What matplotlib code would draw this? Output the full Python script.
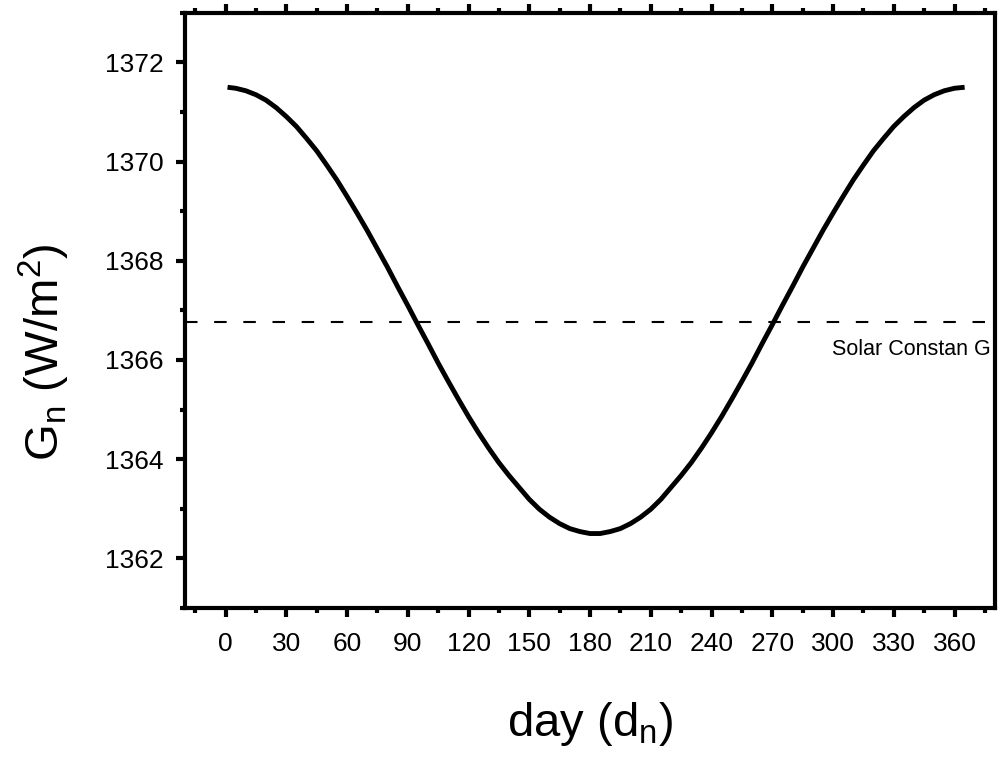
import matplotlib
matplotlib.use("Agg")
import matplotlib.pyplot as plt
from matplotlib.ticker import MultipleLocator

plt.rcParams['font.family'] = ['Liberation Sans', 'DejaVu Sans']
plt.rcParams['mathtext.fontset'] = 'custom'
plt.rcParams['mathtext.rm'] = 'Liberation Sans'

# values (day, Gn in W/m2), every 5 days
days = [1] + list(range(5, 361, 5)) + [365]
gn = [1371.50, 1371.48, 1371.43, 1371.35, 1371.24, 1371.09, 1370.91, 1370.71,
      1370.47, 1370.22, 1369.93, 1369.63, 1369.30, 1368.96, 1368.61, 1368.24,
      1367.87, 1367.48, 1367.10, 1366.71, 1366.33, 1365.94, 1365.57, 1365.21,
      1364.86, 1364.53, 1364.22, 1363.93, 1363.67, 1363.43, 1363.19, 1362.99,
      1362.83, 1362.70, 1362.60, 1362.54, 1362.50, 1362.50, 1362.54, 1362.60,
      1362.70, 1362.83, 1362.99, 1363.19, 1363.43, 1363.67, 1363.93, 1364.22,
      1364.53, 1364.86, 1365.21, 1365.57, 1365.94, 1366.33, 1366.71, 1367.10,
      1367.48, 1367.87, 1368.24, 1368.61, 1368.96, 1369.30, 1369.63, 1369.93,
      1370.22, 1370.47, 1370.71, 1370.91, 1371.09, 1371.24, 1371.35, 1371.43,
      1371.48, 1371.50]
solar_const = 1366.77
const_label = "Solar Constan G"

fig = plt.figure(figsize=(10, 7.58), dpi=100)
ax = fig.add_axes([0.185, 0.198, 0.81, 0.785])

ax.plot(days, gn, color='black', linewidth=3.5, solid_capstyle='butt')
ax.axhline(solar_const, color='black', linewidth=1.5, dashes=(6, 8))
ax.text(378, 1366.22, const_label, ha='right', va='center', fontsize=15.5)

ax.set_xlim(-20, 380)
ax.set_ylim(1361, 1373)
ax.xaxis.set_major_locator(MultipleLocator(30))
ax.xaxis.set_minor_locator(MultipleLocator(15))
ax.yaxis.set_major_locator(MultipleLocator(2))
ax.yaxis.set_minor_locator(MultipleLocator(1))
ax.set_xticks(range(0, 361, 30))

for s in ax.spines.values():
    s.set_linewidth(3)

ax.tick_params(which='both', direction='out', width=3, labelsize=19,
               top=True, right=False, labeltop=False)
ax.tick_params(which='major', length=6.5)
ax.tick_params(which='minor', length=3.5)
ax.tick_params(axis='x', which='major', pad=11)
ax.tick_params(axis='y', which='major', pad=9)

ax.set_xlabel(r'day (d$_\mathregular{n}$)', fontsize=34)
ax.set_ylabel(r'G$_\mathregular{n}$ (W/m$^\mathregular{2}$)', fontsize=34)
ax.xaxis.set_label_coords(0.5, -0.155)
ax.yaxis.set_label_coords(-0.14, 0.43)

fig.savefig('out.png', dpi=100)
